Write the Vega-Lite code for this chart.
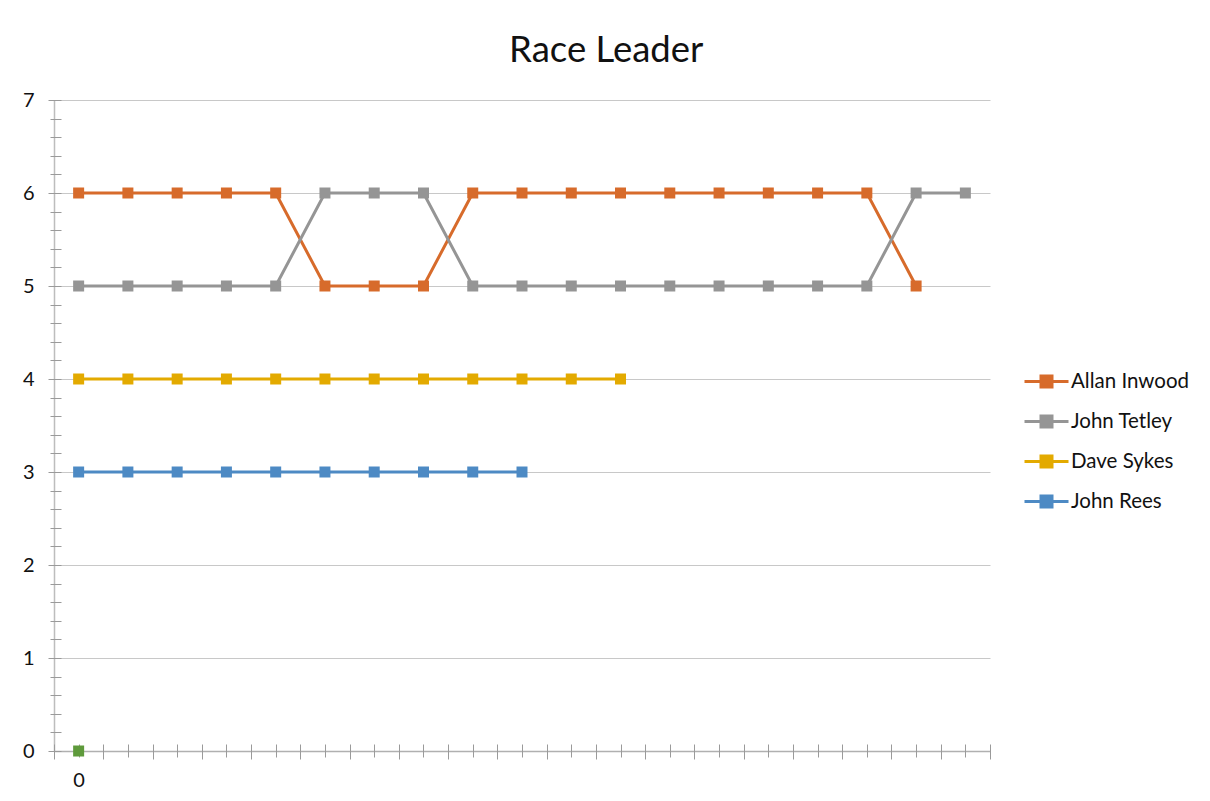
{
  "$schema": "https://vega.github.io/schema/vega-lite/v6.json",
  "width": 936,
  "height": 651,
  "padding": {"left": 22, "top": 32, "right": 10, "bottom": 10},
  "title": {"text": "Race Leader", "fontSize": 36.5, "font": "Lato", "fontWeight": "normal", "color": "#111111", "anchor": "middle", "frame": "bounds", "offset": 21},
  "config": {"view": {"stroke": null}},
  "data": {"values": [
    {"runner": "Allan Inwood", "race": 0, "position": 6},
    {"runner": "Allan Inwood", "race": 1, "position": 6},
    {"runner": "Allan Inwood", "race": 2, "position": 6},
    {"runner": "Allan Inwood", "race": 3, "position": 6},
    {"runner": "Allan Inwood", "race": 4, "position": 6},
    {"runner": "Allan Inwood", "race": 5, "position": 5},
    {"runner": "Allan Inwood", "race": 6, "position": 5},
    {"runner": "Allan Inwood", "race": 7, "position": 5},
    {"runner": "Allan Inwood", "race": 8, "position": 6},
    {"runner": "Allan Inwood", "race": 9, "position": 6},
    {"runner": "Allan Inwood", "race": 10, "position": 6},
    {"runner": "Allan Inwood", "race": 11, "position": 6},
    {"runner": "Allan Inwood", "race": 12, "position": 6},
    {"runner": "Allan Inwood", "race": 13, "position": 6},
    {"runner": "Allan Inwood", "race": 14, "position": 6},
    {"runner": "Allan Inwood", "race": 15, "position": 6},
    {"runner": "Allan Inwood", "race": 16, "position": 6},
    {"runner": "Allan Inwood", "race": 17, "position": 5},
    {"runner": "John Tetley", "race": 0, "position": 5},
    {"runner": "John Tetley", "race": 1, "position": 5},
    {"runner": "John Tetley", "race": 2, "position": 5},
    {"runner": "John Tetley", "race": 3, "position": 5},
    {"runner": "John Tetley", "race": 4, "position": 5},
    {"runner": "John Tetley", "race": 5, "position": 6},
    {"runner": "John Tetley", "race": 6, "position": 6},
    {"runner": "John Tetley", "race": 7, "position": 6},
    {"runner": "John Tetley", "race": 8, "position": 5},
    {"runner": "John Tetley", "race": 9, "position": 5},
    {"runner": "John Tetley", "race": 10, "position": 5},
    {"runner": "John Tetley", "race": 11, "position": 5},
    {"runner": "John Tetley", "race": 12, "position": 5},
    {"runner": "John Tetley", "race": 13, "position": 5},
    {"runner": "John Tetley", "race": 14, "position": 5},
    {"runner": "John Tetley", "race": 15, "position": 5},
    {"runner": "John Tetley", "race": 16, "position": 5},
    {"runner": "John Tetley", "race": 17, "position": 6},
    {"runner": "John Tetley", "race": 18, "position": 6},
    {"runner": "Dave Sykes", "race": 0, "position": 4},
    {"runner": "Dave Sykes", "race": 1, "position": 4},
    {"runner": "Dave Sykes", "race": 2, "position": 4},
    {"runner": "Dave Sykes", "race": 3, "position": 4},
    {"runner": "Dave Sykes", "race": 4, "position": 4},
    {"runner": "Dave Sykes", "race": 5, "position": 4},
    {"runner": "Dave Sykes", "race": 6, "position": 4},
    {"runner": "Dave Sykes", "race": 7, "position": 4},
    {"runner": "Dave Sykes", "race": 8, "position": 4},
    {"runner": "Dave Sykes", "race": 9, "position": 4},
    {"runner": "Dave Sykes", "race": 10, "position": 4},
    {"runner": "Dave Sykes", "race": 11, "position": 4},
    {"runner": "John Rees", "race": 0, "position": 3},
    {"runner": "John Rees", "race": 1, "position": 3},
    {"runner": "John Rees", "race": 2, "position": 3},
    {"runner": "John Rees", "race": 3, "position": 3},
    {"runner": "John Rees", "race": 4, "position": 3},
    {"runner": "John Rees", "race": 5, "position": 3},
    {"runner": "John Rees", "race": 6, "position": 3},
    {"runner": "John Rees", "race": 7, "position": 3},
    {"runner": "John Rees", "race": 8, "position": 3},
    {"runner": "John Rees", "race": 9, "position": 3},
    {"runner": "Series5", "race": 0, "position": 0}
  ]},
  "encoding": {
    "x": {
      "field": "race", "type": "quantitative",
      "scale": {"domain": [-0.5, 18.5], "nice": false, "zero": false},
      "axis": {
        "title": null,
        "values": [-0.5, 0, 0.5, 1, 1.5, 2, 2.5, 3, 3.5, 4, 4.5, 5, 5.5, 6, 6.5, 7, 7.5, 8, 8.5, 9, 9.5, 10, 10.5, 11, 11.5, 12, 12.5, 13, 13.5, 14, 14.5, 15, 15.5, 16, 16.5, 17, 17.5, 18, 18.5],
        "offset": -7,
        "domain": false,
        "tickSize": {"condition": {"test": "datum.value % 1 === 0", "value": 13}, "value": 15},
        "tickColor": "#9A9A9A",
        "tickWidth": 1,
        "grid": true,
        "gridColor": "#BDBDBD",
        "gridWidth": 1.5,
        "gridOpacity": {"condition": {"test": "datum.value === -0.5", "value": 1}, "value": 0},
        "labelExpr": "datum.value === 0 ? '0' : ''",
        "labelPadding": 13,
        "labelFontSize": 20,
        "labelFont": "Lato",
        "labelColor": "#111111",
        "labelOverlap": false,
        "labelFlush": false
      }
    },
    "y": {
      "field": "position", "type": "quantitative",
      "scale": {"domain": [0, 7], "nice": false},
      "axis": {
        "title": null,
        "values": [0, 0.2, 0.4, 0.6, 0.8, 1, 1.2, 1.4, 1.6, 1.8, 2, 2.2, 2.4, 2.6, 2.8, 3, 3.2, 3.4, 3.6, 3.8, 4, 4.2, 4.4, 4.6, 4.8, 5, 5.2, 5.4, 5.6, 5.8, 6, 6.2, 6.4, 6.6, 6.8, 7],
        "offset": -7,
        "domain": false,
        "tickSize": {"condition": {"test": "datum.value % 1 === 0", "value": 13}, "value": 11},
        "tickColor": "#9A9A9A",
        "tickWidth": 1,
        "grid": true,
        "gridColor": {"condition": {"test": "datum.value === 0", "value": "#B0B0B0"}, "value": "#C8C8C8"},
        "gridWidth": {"condition": {"test": "datum.value === 0", "value": 1.5}, "value": 1},
        "gridOpacity": {"condition": {"test": "datum.value % 1 === 0", "value": 1}, "value": 0},
        "labelExpr": "datum.value % 1 === 0 ? format(datum.value, 'd') : ''",
        "labelPadding": 14,
        "labelFontSize": 20,
        "labelFont": "Lato",
        "labelColor": "#111111",
        "labelOverlap": false,
        "labelFlush": false
      }
    },
    "color": {
      "field": "runner", "type": "nominal",
      "scale": {
        "domain": ["Allan Inwood", "John Tetley", "Dave Sykes", "John Rees", "Series5"],
        "range": ["#D76B2B", "#959595", "#E3AA00", "#4D8AC4", "#5E9A3B"]
      },
      "legend": {
        "title": null,
        "orient": "none",
        "legendX": 971,
        "legendY": 260,
        "values": ["Allan Inwood", "John Tetley", "Dave Sykes", "John Rees"],
        "symbolType": "M-1.1,0L1.1,0M-0.275,-0.275L0.275,-0.275L0.275,0.275L-0.275,0.275Z",
        "symbolSize": 1600,
        "symbolStrokeWidth": 3,
        "labelFontSize": 20.5,
        "labelFont": "Lato",
        "labelColor": "#111111",
        "labelOffset": 3,
        "labelLimit": 300,
        "rowPadding": 7,
        "padding": 0,
        "encode": {"symbols": {"update": {"fill": {"scale": "color", "field": "value"}, "stroke": {"scale": "color", "field": "value"}, "opacity": {"value": 1}, "fillOpacity": {"value": 1}, "strokeOpacity": {"value": 1}}}}
      }
    }
  },
  "layer": [
    {"mark": {"type": "line", "strokeWidth": 3}},
    {"mark": {"type": "point", "shape": "square", "filled": true, "size": 121, "opacity": 1}}
  ]
}
